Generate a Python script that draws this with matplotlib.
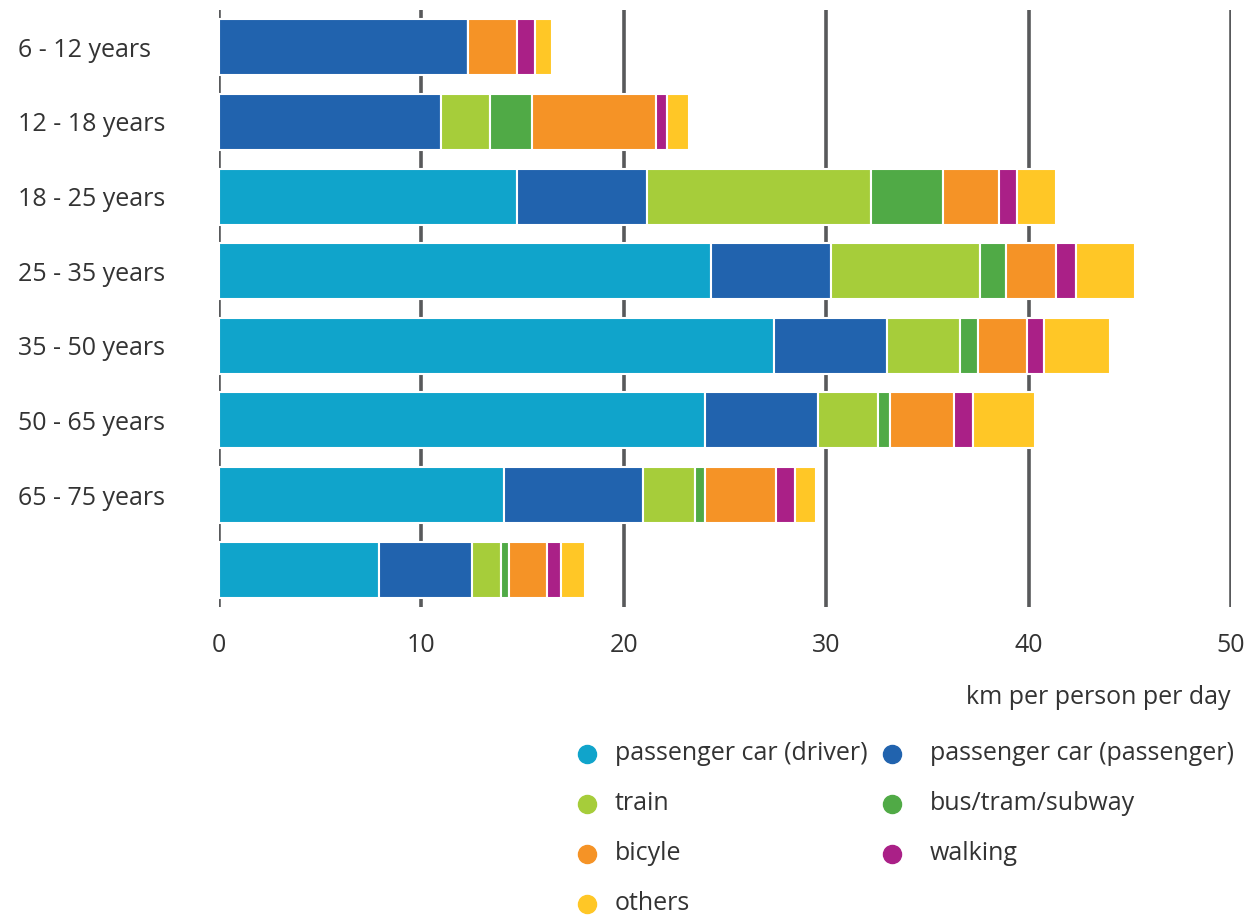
import numpy as np
import matplotlib
matplotlib.use("Agg")
import matplotlib.pyplot as plt
from matplotlib.lines import Line2D

plt.rcParams['font.family'] = ['Open Sans', 'DejaVu Sans']

groups = ["6 - 12 years", "12 - 18 years", "18 - 25 years", "25 - 35 years",
          "35 - 50 years", "50 - 65 years", "65 - 75 years", ""]
modes = ["passenger car (driver)", "passenger car (passenger)", "train",
         "bus/tram/subway", "bicyle", "walking", "others"]
colors = ["#10a4cb", "#2163ae", "#a6cd3a", "#50aa46", "#f59326", "#aa2087", "#ffc726"]

driver    = [0.0, 0.0, 14.7, 24.3, 27.4, 24.0, 14.1, 7.9]
passenger = [12.3, 10.95, 6.45, 5.95, 5.6, 5.6, 6.85, 4.6]
train     = [0.0, 2.45, 11.05, 7.35, 3.6, 2.95, 2.55, 1.45]
bus       = [0.0, 2.05, 3.55, 1.3, 0.9, 0.6, 0.5, 0.4]
bicycle   = [2.4, 6.15, 2.8, 2.45, 2.4, 3.15, 3.5, 1.85]
walking   = [0.9, 0.55, 0.9, 1.0, 0.85, 0.95, 0.95, 0.7]
others    = [0.85, 1.05, 1.9, 2.9, 3.25, 3.05, 1.05, 1.2]

series = [driver, passenger, train, bus, bicycle, walking, others]

W, H = 1248, 921
fig = plt.figure(figsize=(W / 100, H / 100), dpi=100)
ax = fig.add_axes([219 / W, 1 - 607 / H, 1012 / W, 597 / H])

y = np.arange(len(groups))
left = np.zeros(len(groups))
for vals, col in zip(series, colors):
    vals = np.array(vals)
    ax.barh(y, vals, left=left, height=0.75, color=col,
            edgecolor="white", linewidth=1.5, zorder=3)
    left += vals

ax.set_xlim(0, 50)
ax.set_ylim(len(groups) - 0.5, -0.5)
ax.set_xticks([0, 10, 20, 30, 40, 50])
ax.set_yticks(y)
ax.set_yticklabels(groups, ha="left")
ax.tick_params(axis="y", length=0, pad=145, labelsize=18, labelcolor="#333333")
ax.tick_params(axis="x", length=0, pad=19, labelsize=18, labelcolor="#333333")
ax.grid(axis="x", color="#58595b", linewidth=2.6, zorder=0)
ax.set_axisbelow(True)
for s in ax.spines.values():
    s.set_visible(False)

fig.text(1231 / W, 1 - 697 / H, "km per person per day", ha="right", va="center",
         fontsize=18, color="#333333")

# legend drawn by hand: two columns, filled row by row
col_x = [(587, 615), (892, 930)]
row_y = [753, 803, 853, 903]
for i, (name, col) in enumerate(zip(modes, colors)):
    mx, tx = col_x[i % 2]
    ry = row_y[i // 2]
    fig.add_artist(Line2D([mx / W], [1 - (ry + 1) / H], marker="o", linestyle="",
                          markersize=13, markerfacecolor=col, markeredgecolor=col,
                          transform=fig.transFigure))
    fig.text(tx / W, 1 - ry / H, name, ha="left", va="center", fontsize=18,
             color="#333333")

fig.savefig("out.png", dpi=100)
